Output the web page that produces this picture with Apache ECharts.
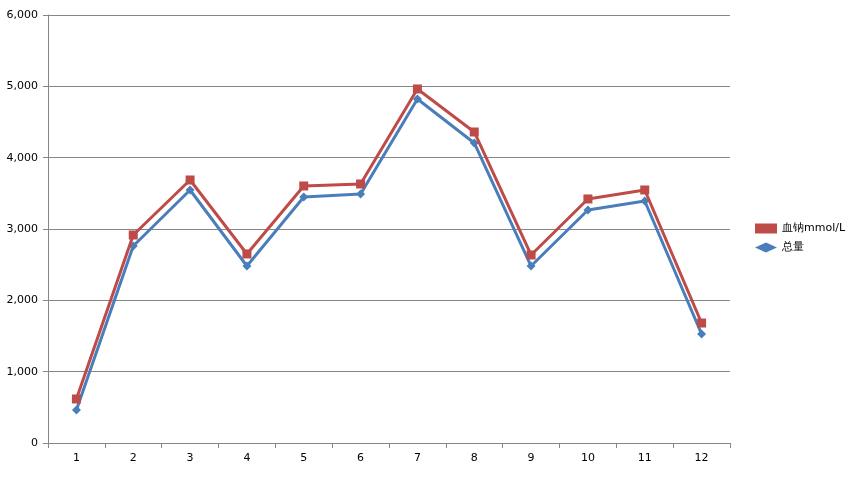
<!DOCTYPE html>
<html><head><meta charset="utf-8">
<script src="https://cdn.jsdelivr.net/npm/echarts@6/dist/echarts.min.js"></script>
<style>html,body{margin:0;background:#fff}#c{width:866px;height:477px}</style>
</head><body><div id="c"></div>
<script>
const categories = ['1','2','3','4','5','6','7','8','9','10','11','12'];
const sodium = [617, 2916, 3687, 2650, 3603, 3631, 4963, 4360, 2636, 3421, 3547, 1682];
const total = [463, 2762, 3547, 2481, 3449, 3491, 4823, 4206, 2481, 3267, 3393, 1528];

const chart = echarts.init(document.getElementById('c'));
const font = {fontFamily: 'DejaVu Sans', fontSize: 11, color: '#000'};
chart.setOption({
	animation: false,
	grid: {left: 48, right: 136, top: 15, bottom: 34},
	legend: {
		orient: 'vertical', left: 750, top: 218, itemGap: 8,
		itemWidth: 22, itemHeight: 10,
		textStyle: {fontFamily: 'DejaVu Sans', fontSize: 11, color: '#000'},
		data: [{name: '血钠mmol/L', icon: 'rect'}, {name: '总量', icon: 'diamond'}]
	},
	xAxis: {
		type: 'category', data: categories, boundaryGap: true,
		axisLine: {lineStyle: {color: '#868686'}},
		axisTick: {show: true, alignWithLabel: false, length: 5, lineStyle: {color: '#868686'}},
		axisLabel: {...font, margin: 10}
	},
	yAxis: {
		type: 'value', min: 0, max: 6000, interval: 1000,
		axisLine: {show: true, lineStyle: {color: '#868686'}},
		axisTick: {show: true, length: 5, lineStyle: {color: '#868686'}},
		splitLine: {lineStyle: {color: '#868686'}},
		axisLabel: {...font, margin: 10}
	},
	series: [
		{name: '总量', type: 'line', data: total, symbol: 'diamond', symbolSize: 9,
			itemStyle: {color: '#4A7EBB'}, lineStyle: {width: 3, color: '#4A7EBB'}, z: 2},
		{name: '血钠mmol/L', type: 'line', data: sodium, symbol: 'rect', symbolSize: 9,
			itemStyle: {color: '#BE4B48'}, lineStyle: {width: 3, color: '#BE4B48'}, z: 3}
	]
});
</script></body></html>
